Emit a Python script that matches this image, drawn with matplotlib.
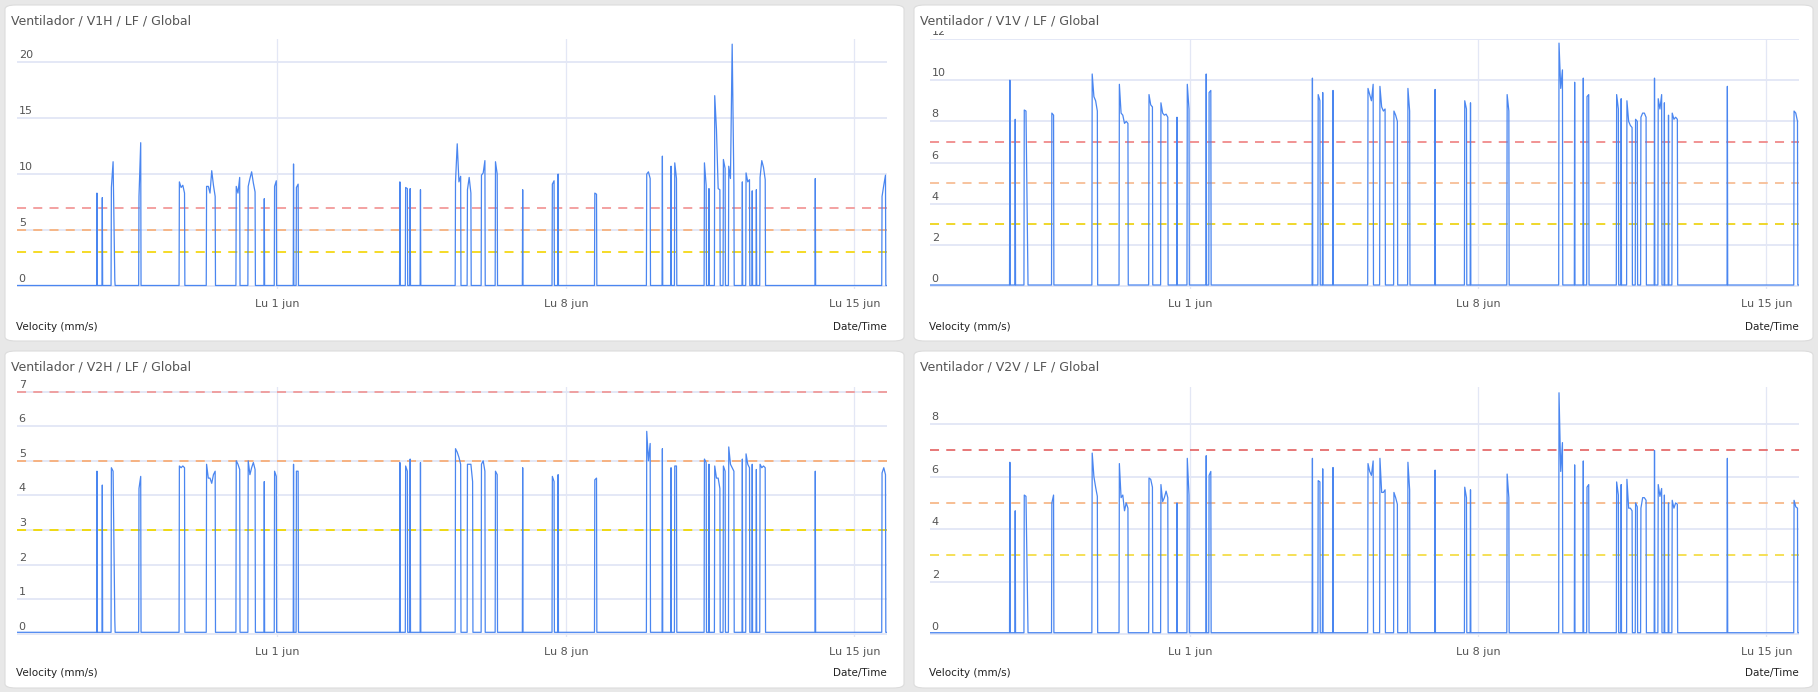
import matplotlib
matplotlib.use("Agg")
import matplotlib.pyplot as plt
from matplotlib.patches import FancyBboxPatch, Rectangle
from matplotlib.transforms import blended_transform_factory, offset_copy

W, H = 1818, 692

titles = ["Ventilador / V1H / LF / Global", "Ventilador / V1V / LF / Global",
          "Ventilador / V2H / LF / Global", "Ventilador / V2V / LF / Global"]
x_tick_days = [0, 7, 14]
x_tick_labels = ["Lu 1 jun", "Lu 8 jun", "Lu 15 jun"]
x_start, x_end = -6.32, 14.79
baseline = 0.05

# pulse start times (days relative to 1 jun)
pulse_days = [-4.38, -4.25, -4.03, -3.36, -2.38, -1.72, -1.00, -0.71, -0.32, -0.07,
              0.39, 0.46, 2.97, 3.11, 3.22, 3.47, 4.32, 4.61, 4.95, 5.29,
              5.95, 6.67, 6.81, 7.70, 8.96, 9.34, 9.55, 9.64, 10.36, 10.47,
              10.61, 10.82, 10.95, 11.28, 11.37, 11.52, 11.62, 11.71, 13.05, 14.67]

v1h = [[8.3], [7.9], [8.8, 11.1, 0.5], [8.0, 12.8], [9.3, 8.8, 9.0, 8.3],
       [8.9, 8.9, 8.3, 10.3, 9.0, 8.0], [8.9, 8.3, 9.7], [8.9, 9.6, 10.2, 9.2, 8.4], [7.8], [8.9, 9.4],
       [10.9], [8.8, 9.1], [9.3], [8.8, 8.7], [8.7], [8.6], [9.3, 12.7, 9.3, 9.8], [8.6, 9.7, 8.3],
       [9.9, 10.1, 11.2], [11.1, 10.0],
       [8.6], [9.1, 9.4], [10.0], [8.3, 8.2], [10.0, 10.2, 9.6], [11.6], [10.7], [11.0, 9.6],
       [11.0, 9.0], [8.7],
       [17.0, 14.0, 8.7, 8.6], [11.3, 10.5], [10.7, 9.6, 21.6, 9.0], [9.3], [10.1, 9.3, 9.5],
       [8.5], [8.6], [9.7, 11.2, 10.6, 9.5], [9.6], [8.0, 9.0, 9.9]]
v1v = [[10.0], [8.1], [8.55, 8.5, 1.2], [8.4, 8.3], [10.3, 9.2, 9.0, 8.5],
       [9.8, 8.4, 8.3, 7.9, 8.0, 7.9], [9.3, 8.8, 8.7], [8.9, 8.4, 8.3, 8.35, 8.2], [8.2], [9.8, 8.6],
       [10.3], [9.4, 9.5], [10.1], [9.3, 9.0], [9.4], [9.5], [9.6, 9.3, 9.0, 9.8], [9.7, 8.7, 8.5, 8.6],
       [8.5, 8.3, 8.0], [9.6, 8.5],
       [9.55], [9.0, 8.6], [8.9], [9.3, 8.5], [11.8, 9.6, 10.5], [9.9], [10.1], [9.2, 9.3],
       [9.3, 8.6], [9.1],
       [9.0, 8.0, 7.8, 7.7], [8.1, 8.0], [8.2, 8.4, 8.4, 8.2], [10.1], [9.1, 8.6, 9.3],
       [8.9], [8.3], [8.4, 8.1, 8.2, 8.1], [9.7], [8.5, 8.4, 8.0]]
v2h = [[4.7], [4.3], [4.8, 4.7, 0.4], [4.2, 4.55], [4.85, 4.8, 4.85, 4.8],
       [4.9, 4.5, 4.5, 4.35, 4.6, 4.7], [5.0, 4.9, 4.75], [5.0, 4.6, 4.8, 4.95, 4.75], [4.4], [4.7, 4.55],
       [4.9], [4.7, 4.7], [4.95], [4.85, 4.7], [5.05], [4.95], [5.35, 5.25, 5.1, 4.9], [4.9, 4.9, 4.9, 4.4],
       [4.9, 5.0, 4.7], [4.7, 4.6],
       [4.8], [4.55, 4.4], [4.6], [4.45, 4.5], [5.85, 5.0, 5.5], [5.35], [4.8], [4.85, 4.85],
       [5.05, 4.95], [4.9],
       [4.85, 4.5, 4.5, 4.2], [4.85, 4.7], [5.4, 4.9, 4.8, 4.7], [5.05], [5.2, 4.9, 4.8],
       [4.9], [4.75], [4.9, 4.8, 4.85, 4.8], [4.7], [4.65, 4.8, 4.6]]
v2v = [[6.55], [4.7], [5.3, 5.25, 0.7], [5.0, 5.3], [6.9, 6.0, 5.6, 5.25],
       [6.5, 5.2, 5.3, 4.7, 5.0, 4.8], [5.95, 5.9, 5.6], [5.7, 5.05, 5.2, 5.45, 5.2], [5.0], [6.7, 5.3],
       [6.8], [6.05, 6.2], [6.7], [5.85, 5.8], [6.3], [6.35], [6.5, 6.2, 6.05, 6.6], [6.7, 5.4, 5.4, 5.5],
       [5.4, 5.2, 4.95], [6.55, 5.5],
       [6.25], [5.6, 5.2], [5.5], [6.1, 5.2], [9.2, 6.2, 7.3], [6.45], [6.6], [5.6, 5.7],
       [5.8, 5.3], [5.7],
       [5.9, 4.8, 4.8, 4.7], [5.0, 4.85], [4.8, 5.2, 5.2, 5.1], [7.0], [5.7, 5.25, 5.55],
       [5.3], [5.0], [5.1, 4.8, 5.0, 4.95], [6.7], [5.1, 4.85, 4.8]]
series = [v1h, v1v, v2h, v2v]

y_ticks = [[0, 5, 10, 15, 20], [0, 2, 4, 6, 8, 10, 12], [0, 1, 2, 3, 4, 5, 6, 7], [0, 2, 4, 6, 8]]
y_tops = [22.06, 12.0, 7.13, 9.42]
thresholds = [7, 5, 3]
thr_colors = [["#f29a9a", "#f7b27e", "#f5d816"], ["#f08a8a", "#f7be96", "#eed41a"],
              ["#f09a9a", "#f7ae78", "#f0d800"], ["#e56c6c", "#f7b98a", "#f5dd4a"]]

def build(vals):
    step = 1 / 24
    eps = 0.008
    xs, ys = [x_start], [baseline]
    for d, vs in zip(pulse_days, vals):
        xs.append(d - eps); ys.append(baseline)
        for i, v in enumerate(vs):
            xs.append(d + i * step); ys.append(v)
        xs.append(d + (len(vs) - 1) * step + eps); ys.append(baseline)
    xs.append(x_end); ys.append(baseline)
    return xs, ys

fig = plt.figure(figsize=(W / 100, H / 100), dpi=100)
fig.patch.set_facecolor("#e8e8e8")

cards = [(5, 5, 904, 341), (914, 5, 1813, 341), (5, 351, 904, 688), (914, 351, 1813, 688)]
axes_px = [(17, 39, 887, 289), (930, 39, 1799, 289), (17, 387, 887, 637), (930, 387, 1799, 637)]

for k in range(4):
    cx0, cy0, cx1, cy1 = cards[k]
    fig.patches.append(FancyBboxPatch((cx0 / W, 1 - cy1 / H), (cx1 - cx0) / W, (cy1 - cy0) / H,
                                      boxstyle="round,pad=0,rounding_size=0.006",
                                      transform=fig.transFigure, facecolor="white",
                                      edgecolor="#dcdcdc", lw=0.8, zorder=-10))
    x0, y0, x1, y1 = axes_px[k]
    ax = fig.add_axes([x0 / W, 1 - y1 / H, (x1 - x0) / W, (y1 - y0) / H])
    ax.set_facecolor("none")
    for s in ax.spines.values():
        s.set_visible(False)
    ax.set_xlim(x_start, x_end)
    ax.set_ylim(-0.012 * y_tops[k], y_tops[k])
    for t in y_ticks[k]:
        ax.axhline(t, color="#dfe4f5", lw=1.2, zorder=1)
    for d in x_tick_days:
        ax.axvline(d, color="#e3e7f5", lw=0.9, zorder=1)
    for th, c in zip(thresholds, thr_colors[k]):
        ax.axhline(th, color=c, lw=1.3, ls=(0, (5, 4)), zorder=2)
    xs, ys = build(series[k])
    ax.plot(xs, ys, color="#4a86f0", lw=0.9, zorder=3)
    ax.set_yticks([])
    ax.set_xticks(x_tick_days)
    ax.set_xticklabels(x_tick_labels, fontsize=8, color="#555555")
    ax.tick_params(axis="x", length=0, pad=7)
    tr = offset_copy(blended_transform_factory(ax.transAxes, ax.transData), fig=fig, x=0, y=2, units="dots")
    clip = Rectangle((x0 / W, 1 - y1 / H), (x1 - x0) / W, (y1 - y0 + 8) / H,
                     transform=fig.transFigure, visible=False)
    fig.patches.append(clip)
    for t in y_ticks[k]:
        txt = ax.text(0.002, t, str(t), transform=tr, fontsize=8,
                      color="#555555", ha="left", va="bottom", clip_on=True)
        txt.set_clip_path(clip)
    fig.text((cx0 + 6) / W, 1 - (cy0 + 16) / H, titles[k], fontsize=9, color="#555555",
             ha="left", va="center")
    fig.text((x0 - 1) / W, 1 - (cy0 + 322) / H, "Velocity (mm/s)", fontsize=7.5,
             color="#222222", ha="left", va="center")
    fig.text(x1 / W, 1 - (cy0 + 322) / H, "Date/Time", fontsize=7.5,
             color="#222222", ha="right", va="center")

fig.savefig("out.png", dpi=100, facecolor=fig.get_facecolor())
